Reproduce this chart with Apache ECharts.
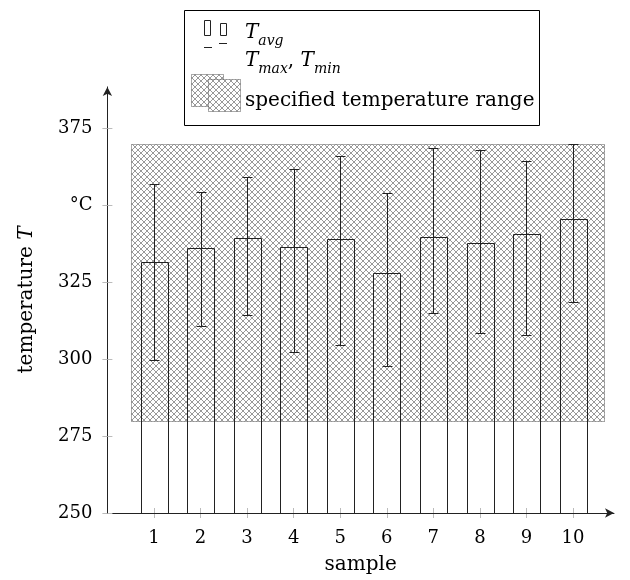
<!DOCTYPE html>
<html>
<head>
<meta charset="utf-8">
<script src="https://cdn.jsdelivr.net/npm/echarts@6/dist/echarts.min.js"></script>
<style>
  html, body { margin: 0; padding: 0; background: #fff; }
  #chart { width: 630px; height: 580px; }
</style>
</head>
<body>
<div id="chart"></div>
<script>
// data
const samples = [1, 2, 3, 4, 5, 6, 7, 8, 9, 10];
const tAvg = [331.6, 336.1, 339.4, 336.6, 339.1, 328.0, 339.7, 337.6, 340.7, 345.6];
const tMax = [357.0, 354.4, 359.2, 361.8, 366.1, 354.1, 368.5, 368.0, 364.4, 369.8];
const tMin = [299.6, 310.9, 314.2, 302.2, 304.5, 297.9, 314.9, 308.6, 308.0, 318.7];
const rangeX = [0.5, 10.65];
const rangeY = [280, 370];
const yTicks = [250, 275, 300, 325, 350, 375];
const yTickLabels = ['250', '275', '300', '325', '°C', '375'];
const xTicks = samples;

const FONT = 'DejaVu Serif';
const INK = '#222';

// crosshatch pattern
function makeHatch() {
  const c = document.createElement('canvas');
  c.width = 6; c.height = 6;
  const ctx = c.getContext('2d');
  ctx.fillStyle = '#fff';
  ctx.fillRect(0, 0, 6, 6);
  ctx.strokeStyle = '#999';
  ctx.lineWidth = 1;
  ctx.beginPath();
  ctx.moveTo(-1, -1); ctx.lineTo(7, 7);
  ctx.moveTo(-1, 7); ctx.lineTo(7, -1);
  ctx.stroke();
  return c;
}
const hatch = { image: makeHatch(), repeat: 'repeat' };

// measure text so legend pieces line up
const mctx = document.createElement('canvas').getContext('2d');
function textW(str, size, italic) {
  mctx.font = (italic ? 'italic ' : '') + size + 'px "' + FONT + '"';
  return mctx.measureText(str).width;
}

function mathText(parts, x, baseline) {
  // parts: [text, isSub, italic]
  const out = [];
  let cx = x;
  parts.forEach(([str, sub, italic]) => {
    const size = sub ? 14 : 20;
    out.push({
      type: 'text',
      x: cx,
      y: baseline + (sub ? 5 : 0) + 5,
      style: {
        text: str,
        font: (italic ? 'italic ' : '') + size + 'px "' + FONT + '"',
        fill: '#000',
        verticalAlign: 'bottom'
      }
    });
    cx += textW(str, size, italic);
  });
  return out;
}

function drawVisualisation() {
  const chart = echarts.init(document.getElementById('chart'));

  const legend = [
    { type: 'rect', shape: { x: 184.5, y: 10.5, width: 355, height: 115 },
      style: { fill: '#fff', stroke: '#000', lineWidth: 1 } },
    { type: 'rect', shape: { x: 204.5, y: 20.5, width: 6, height: 15 },
      style: { fill: 'none', stroke: INK, lineWidth: 1 } },
    { type: 'rect', shape: { x: 220.5, y: 23.5, width: 6, height: 12 },
      style: { fill: 'none', stroke: INK, lineWidth: 1 } },
    { type: 'line', shape: { x1: 204, y1: 47.5, x2: 212, y2: 47.5 },
      style: { stroke: INK, lineWidth: 1 } },
    { type: 'line', shape: { x1: 219, y1: 43.5, x2: 227, y2: 43.5 },
      style: { stroke: INK, lineWidth: 1 } },
    { type: 'rect', shape: { x: 191.5, y: 74.5, width: 32, height: 32 },
      style: { fill: hatch, stroke: '#555', lineWidth: 1, lineDash: [1, 1] } },
    { type: 'rect', shape: { x: 208.5, y: 79.5, width: 32, height: 32 },
      style: { fill: hatch, stroke: '#555', lineWidth: 1, lineDash: [1, 1] } }
  ]
    .concat(mathText([['T', false, true], ['avg', true, true]], 245, 38))
    .concat(mathText([['T', false, true], ['max', true, true], [', ', false, false],
      ['T', false, true], ['min', true, true]], 245, 66))
    .concat(mathText([['specified temperature range', false, false]], 245, 106));

  const tickStyle = { show: true, length: 5, lineStyle: { color: '#bbb', width: 1 } };

  const option = {
    animation: false,
    grid: { left: 107.4, right: 16, top: 86.9, bottom: 66 },
    xAxis: [
      {
        type: 'value', min: 0, max: 10.88,
        name: 'sample', nameLocation: 'middle', nameGap: 42,
        nameTextStyle: { fontFamily: FONT, fontSize: 20, color: '#000' },
        axisLine: { show: true, lineStyle: { color: INK, width: 1 },
          symbol: ['none', 'arrow'], symbolSize: [7, 9] },
        axisTick: Object.assign({ customValues: xTicks }, tickStyle),
        axisLabel: { customValues: xTicks, margin: 16,
          fontFamily: FONT, fontSize: 18, color: '#000' },
        splitLine: { show: false }
      },
      {
        type: 'value', min: 0, max: 10.88, position: 'bottom',
        axisLine: { show: false },
        axisTick: Object.assign({ customValues: xTicks, inside: true }, tickStyle),
        axisLabel: { show: false },
        splitLine: { show: false }
      }
    ],
    yAxis: [
      {
        type: 'value', min: 250, max: 388.5,
        name: '{r|temperature }{i|T}', nameLocation: 'middle', nameGap: 71, nameRotate: 90,
        nameTextStyle: {
          color: '#000',
          rich: {
            r: { fontFamily: FONT, fontSize: 20, color: '#000' },
            i: { fontFamily: FONT, fontSize: 20, fontStyle: 'italic', color: '#000' }
          }
        },
        axisLine: { show: true, lineStyle: { color: INK, width: 1 },
          symbol: ['none', 'arrow'], symbolSize: [7, 9] },
        axisTick: Object.assign({ customValues: yTicks }, tickStyle),
        axisLabel: {
          customValues: yTicks, margin: 15,
          fontFamily: FONT, fontSize: 18, color: '#000',
          formatter: v => yTickLabels[yTicks.indexOf(v)]
        },
        splitLine: { show: false }
      },
      {
        type: 'value', min: 250, max: 388.5, position: 'left',
        axisLine: { show: false },
        axisTick: Object.assign({ customValues: yTicks, inside: true }, tickStyle),
        axisLabel: { show: false },
        splitLine: { show: false }
      }
    ],
    series: [
      {
        // specified temperature range
        type: 'custom', z: 1,
        data: [[rangeX[0], rangeY[0], rangeX[1], rangeY[1]]],
        renderItem: (params, api) => {
          const p0 = api.coord([api.value(0), api.value(3)]);
          const p1 = api.coord([api.value(2), api.value(1)]);
          return {
            type: 'rect',
            shape: { x: Math.round(p0[0]) + 0.5, y: Math.round(p0[1]) + 0.5,
              width: Math.round(p1[0] - p0[0]), height: Math.round(p1[1] - p0[1]) },
            style: { fill: hatch, stroke: '#555', lineWidth: 1, lineDash: [1, 1] }
          };
        }
      },
      {
        // T_avg bars
        type: 'custom', z: 2,
        data: samples.map((s, i) => [s, tAvg[i]]),
        renderItem: (params, api) => {
          const top = api.coord([api.value(0), api.value(1)]);
          const base = api.coord([api.value(0), 250]);
          const w = api.size([0.573, 0])[0];
          return {
            type: 'rect',
            shape: { x: Math.round(top[0] - w / 2) + 0.5, y: Math.round(top[1]) + 0.5,
              width: Math.round(w), height: base[1] - Math.round(top[1]) },
            style: { fill: 'none', stroke: INK, lineWidth: 1 }
          };
        }
      },
      {
        // T_max / T_min error bars
        type: 'custom', z: 3,
        data: samples.map((s, i) => [s, tMin[i], tMax[i]]),
        renderItem: (params, api) => {
          const lo = api.coord([api.value(0), api.value(1)]);
          const hi = api.coord([api.value(0), api.value(2)]);
          const x = Math.round(lo[0]) + 0.5;
          const yl = Math.round(lo[1]) + 0.5;
          const yh = Math.round(hi[1]) + 0.5;
          const st = { stroke: INK, lineWidth: 1 };
          return {
            type: 'group',
            children: [
              { type: 'line', shape: { x1: x, y1: yl, x2: x, y2: yh }, style: st },
              { type: 'line', shape: { x1: x - 5, y1: yl, x2: x + 5, y2: yl }, style: st },
              { type: 'line', shape: { x1: x - 5, y1: yh, x2: x + 5, y2: yh }, style: st }
            ]
          };
        }
      }
    ],
    graphic: legend
  };

  chart.setOption(option);
}

window.addEventListener('load', drawVisualisation);
</script>
</body>
</html>
